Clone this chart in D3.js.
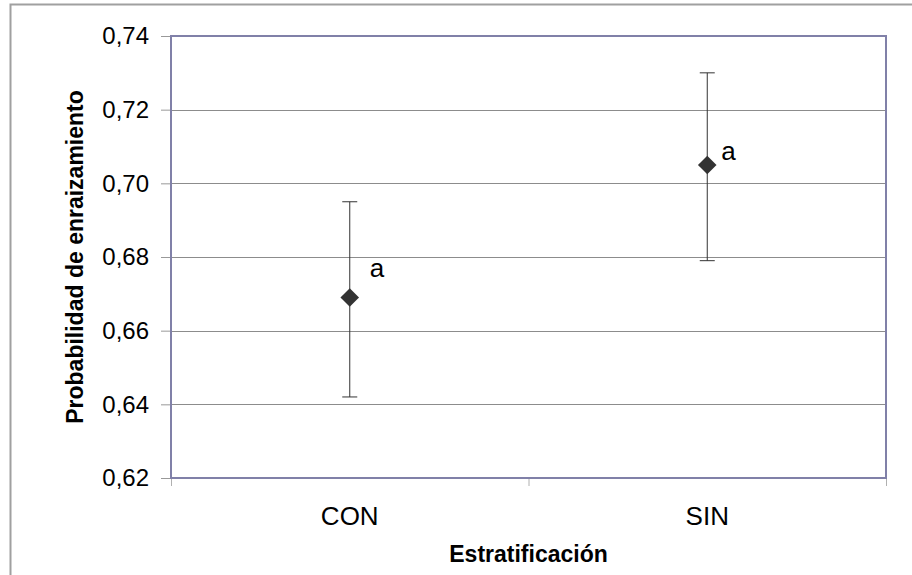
<!DOCTYPE html>
<html>
<head>
<meta charset="utf-8">
<script src="https://cdn.jsdelivr.net/npm/d3@7"></script>
<style>
  body { margin: 0; background: #fff; }
  text { font-family: "Liberation Sans", Arial, sans-serif; fill: #000; }
</style>
</head>
<body>
<svg id="chart"></svg>
<script>
// Data
const categories = ["CON", "SIN"];
const means = [0.669, 0.705];
const upper = [0.695, 0.730];
const lower = [0.642, 0.679];
const letters = ["a", "a"];
const yTicks = [0.62, 0.64, 0.66, 0.68, 0.70, 0.72, 0.74];

// where Excel put the letter labels, relative to the marker
const labelOffsets = [[20, -21], [14, -5]];

const W = 912, H = 575;
const margin = { top: 36, right: 26, bottom: 97, left: 171 };
const width = W - margin.left - margin.right;
const height = H - margin.top - margin.bottom;

const svg = d3.select("#chart")
    .attr("width", W)
    .attr("height", H);

// outer chart border
svg.append("rect")
    .attr("x", 10.5).attr("y", 4.5)
    .attr("width", W + 10).attr("height", H + 10)
    .attr("fill", "none")
    .attr("stroke", "#a0a0a0")
    .attr("stroke-width", 2);

const g = svg.append("g")
    .attr("transform", `translate(${margin.left}, ${margin.top})`);

const x = d3.scaleBand()
    .domain(categories)
    .range([0, width]);

const y = d3.scaleLinear()
    .domain([0.62, 0.74])
    .range([height, 0]);

const fmt = v => d3.format(".2f")(v).replace(".", ",");

// gridlines
g.selectAll(".grid")
    .data(yTicks.slice(1, -1))
    .enter()
    .append("line")
    .attr("x1", 0).attr("x2", width)
    .attr("y1", d => Math.round(y(d)) + 0.5)
    .attr("y2", d => Math.round(y(d)) + 0.5)
    .attr("stroke", "#8c8c8c")
    .attr("stroke-width", 1);

// y axis
const yAxis = g.append("g")
    .call(d3.axisLeft(y).tickValues(yTicks).tickFormat(fmt).tickSize(10).tickPadding(12));
yAxis.select(".domain").remove();
yAxis.selectAll("line").attr("stroke", "#999");
yAxis.selectAll("text").style("font-size", "24px");

// x axis labels
const xAxis = g.append("g")
    .attr("transform", `translate(0, ${height})`)
    .call(d3.axisBottom(x).tickSize(0).tickPadding(29));
xAxis.select(".domain").remove();
xAxis.selectAll("text").style("font-size", "26px");

// x ticks at category boundaries
g.selectAll(".xtick")
    .data([0, width / 2, width])
    .enter()
    .append("line")
    .attr("x1", d => d + 0.5).attr("x2", d => d + 0.5)
    .attr("y1", height).attr("y2", height + 8)
    .attr("stroke", "#b0b0b0");

// plot frame
g.append("rect")
    .attr("x", 0).attr("y", 0)
    .attr("width", width).attr("height", height)
    .attr("fill", "none")
    .attr("stroke", "#8080a8")
    .attr("stroke-width", 2);

// error bars
const cx = d => x(d) + x.bandwidth() / 2;
const capW = 7.5;

const bars = g.selectAll(".err")
    .data(categories)
    .enter()
    .append("g")
    .attr("class", "err");

bars.append("line")
    .attr("x1", d => cx(d)).attr("x2", d => cx(d))
    .attr("y1", (d, i) => y(upper[i])).attr("y2", (d, i) => y(lower[i]))
    .attr("stroke", "#333").attr("stroke-width", 1);

bars.append("line")
    .attr("x1", d => cx(d) - capW).attr("x2", d => cx(d) + capW)
    .attr("y1", (d, i) => y(upper[i])).attr("y2", (d, i) => y(upper[i]))
    .attr("stroke", "#333").attr("stroke-width", 1);

bars.append("line")
    .attr("x1", d => cx(d) - capW).attr("x2", d => cx(d) + capW)
    .attr("y1", (d, i) => y(lower[i])).attr("y2", (d, i) => y(lower[i]))
    .attr("stroke", "#333").attr("stroke-width", 1);

// diamond markers
bars.append("path")
    .attr("d", d3.symbol().type(d3.symbolDiamond2).size(220))
    .attr("transform", (d, i) => `translate(${cx(d)}, ${y(means[i])})`)
    .attr("fill", "#333");

// significance letters
bars.append("text")
    .attr("x", (d, i) => cx(d) + labelOffsets[i][0])
    .attr("y", (d, i) => y(means[i]) + labelOffsets[i][1])
    .style("font-size", "26px")
    .text((d, i) => letters[i]);

// axis titles
svg.append("text")
    .attr("x", margin.left + width / 2)
    .attr("y", 562)
    .attr("text-anchor", "middle")
    .style("font-size", "23px")
    .style("font-weight", "bold")
    .text("Estratificación");

svg.append("text")
    .attr("transform", `translate(83, ${margin.top + height / 2}) rotate(-90)`)
    .attr("text-anchor", "middle")
    .style("font-size", "23px")
    .style("font-weight", "bold")
    .text("Probabilidad de enraizamiento");
</script>
</body>
</html>
